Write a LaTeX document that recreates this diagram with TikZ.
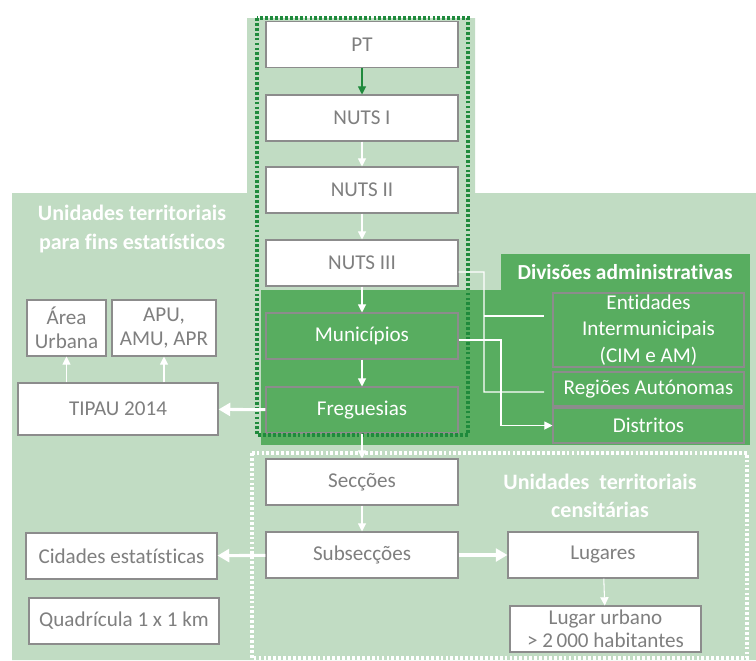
\documentclass[tikz,border=0pt]{standalone}
\usepackage{fontspec}
\setmainfont{Carlito}[Ligatures=NoCommon]
\usetikzlibrary{arrows.meta}
\definecolor{fundo}{HTML}{C1DCC3}
\definecolor{verdemed}{HTML}{58AD60}
\definecolor{verdeesc}{HTML}{1F8A3C}
\definecolor{borda}{HTML}{8C8C8C}
\definecolor{texto}{HTML}{7F7F7F}
\tikzset{
    caixa/.style={draw=borda,line width=0.9pt,fill=white,text=texto,
        minimum width=5.76cm,minimum height=1.38cm,inner sep=0pt,
        align=center,font=\fontsize{18}{22.5}\selectfont},
    caixaverde/.style={caixa,fill=verdemed,text=white},
    titulo/.style={text=white,align=center,
        font=\bfseries\fontsize{18.8}{24}\selectfont},
    pontilhado/.style={line width=3pt,dash pattern=on 2.4pt off 1.8pt},
    fina/.style={white,line width=0.9pt,-{Triangle[width=7pt,length=7pt]}},
    grossa/.style={white,line width=2.6pt,-{Triangle[width=11pt,length=10pt]}},
}
\begin{document}
\begin{tikzpicture}[x=0.03cm,y=-0.03cm]
\useasboundingbox[fill=white] (0,0) rectangle (756,660);
% fundos
\fill[fundo] (247,18) -- (475,18) -- (475,193) -- (756,193) -- (756,660)
    -- (12,660) -- (12,193) -- (247,193) -- cycle;
\fill[verdemed] (261,290) rectangle (750,445);
\fill[verdemed] (501,254) rectangle (750,290);
\draw[white,pontilhado] (252,453) rectangle (747,658);

% coluna central
\node[caixa] (pt)   at (362,44.5) {PT};
\node[caixa] (n1)   at (362,118)  {NUTS I};
\node[caixa] (n2)   at (362,190)  {NUTS II};
\node[caixa] (n3)   at (362,263)  {NUTS III};
\node[caixaverde] (mun)  at (362,336)  {Municípios};
\node[caixaverde] (freg) at (362,410)  {Freguesias};
\node[caixa] (sec)  at (362,482)  {Secções};
\node[caixa] (sub)  at (362,555)  {Subsecções};

% divisoes administrativas
\node[caixaverde,minimum width=5.73cm,minimum height=2.22cm] (ent) at (648.5,330)
    {Entidades\\Intermunicipais\\(CIM e AM)};
\node[caixaverde,minimum width=5.73cm,minimum height=1.02cm] (reg) at (648.5,389)
    {Regiões Autónomas};
\node[caixaverde,minimum width=5.73cm,minimum height=1.05cm] (dist) at (648.5,425.5)
    {Distritos};
\node[titulo,font=\bfseries\fontsize{18.3}{24}\selectfont] (tdiv) at (625,272)
    {Divisões administrativas};

% lado esquerdo
\node[caixa,minimum width=2.37cm,minimum height=1.68cm,
    font=\fontsize{18}{20.4}\selectfont] (area) at (66.5,328) {Área\\Urbana};
\node[caixa,minimum width=3.12cm,minimum height=1.68cm,
    font=\fontsize{18}{20.4}\selectfont] (apu) at (164,328) {APU,\\AMU, APR};
\node[caixa,minimum width=6cm,minimum height=1.56cm] (tipau) at (118,409) {TIPAU 2014};
\node[caixa,minimum width=5.73cm] (cid) at (121.5,556) {Cidades estatísticas};
\node[caixa,minimum width=5.7cm] (quad) at (124,621) {Quadrícula 1 x 1 km};
\node[titulo] (tfins) at (132,229) {Unidades territoriais\\para fins estatísticos};

% censitarias
\node[caixa,minimum width=5.7cm] (lug) at (603,555) {Lugares};
\node[caixa,minimum width=5.73cm,font=\fontsize{18}{19.5}\selectfont] (lurb) at (605.5,629)
    {Lugar urbano\\> 2\,000 habitantes};
\node[titulo] (tcens) at (600,496) {Unidades\ \ territoriais\\censitárias};

% moldura pontilhada
\draw[verdeesc,pontilhado] (257,18) rectangle (468,435);

% setas
\draw[verdeesc,line width=0.9pt,-{Triangle[width=7pt,length=7pt]}] (pt) -- (n1);
\draw[fina] (n1) -- (n2);
\draw[fina] (n2) -- (n3);
\draw[fina] (n3) -- (mun);
\draw[fina] (mun) -- (freg);
\draw[fina] (freg) -- (sec);
\draw[fina] (sec) -- (sub);
\draw[fina] (lug) -- (lurb);
\draw[fina] (tipau.north -| area) -- (area);
\draw[fina] (tipau.north -| apu) -- (apu);
\draw[grossa] (freg) -- (tipau);
\draw[grossa] (sub) -- (cid);
\draw[grossa] (sub) -- (lug);

% ligacoes
\coordinate (ce) at (544,316);
\coordinate (cr) at (544,392);
\draw[white,line width=0.9pt] ([yshift=-0.27cm]n3.east) -- (484,272) -- (484,392) -- (cr);
\draw[white,line width=0.9pt] (484,316) -- (ce);
\draw[fina] ([yshift=-0.12cm]mun.east) -- (501,340) -- (501,425.5) -- (dist.west);
\end{tikzpicture}
\end{document}
